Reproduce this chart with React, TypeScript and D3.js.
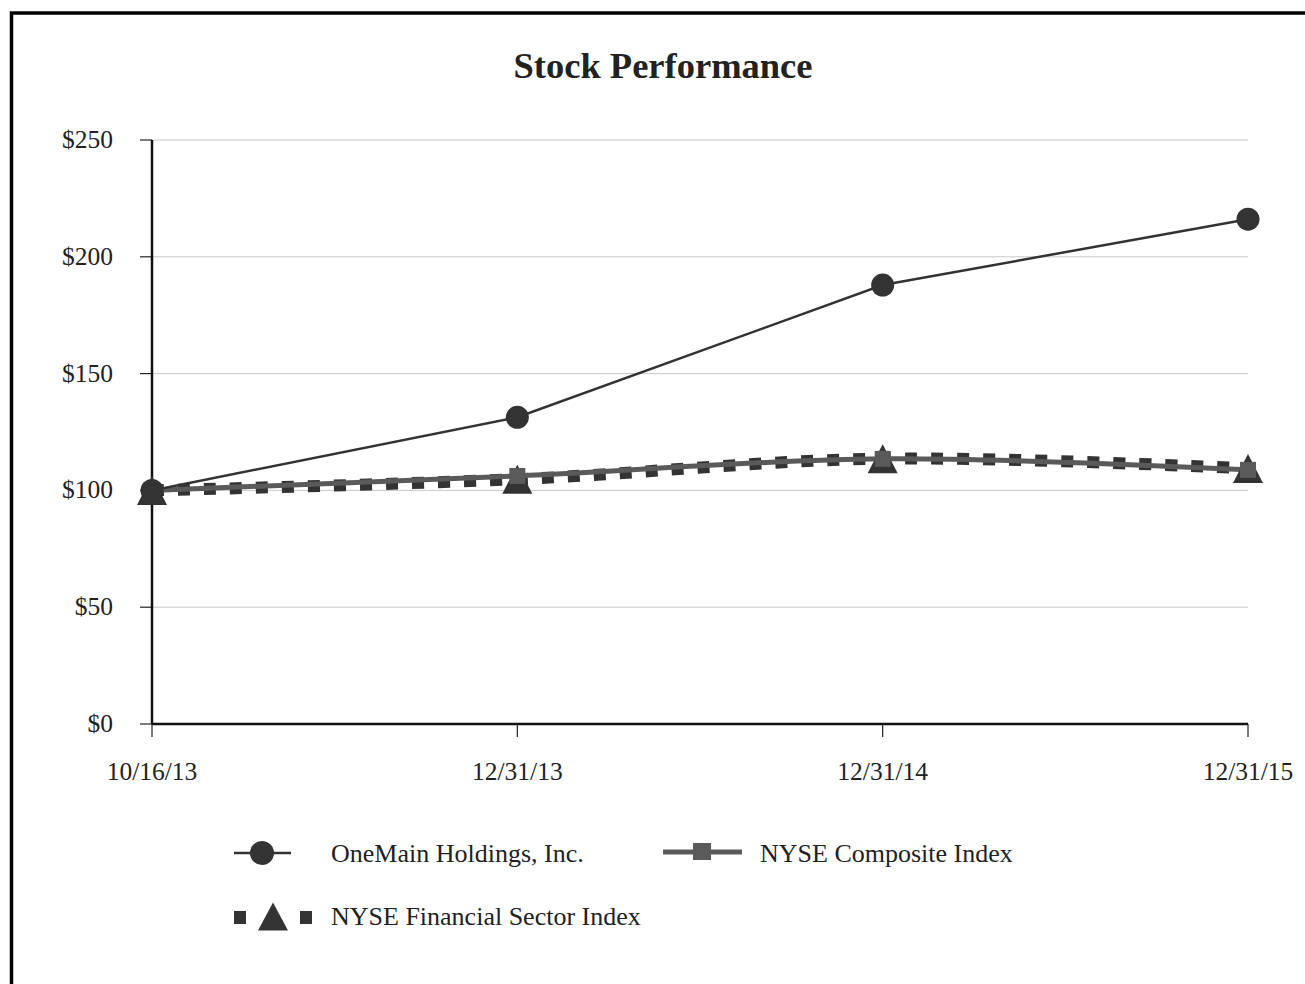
import React from 'react';
import * as d3 from 'd3';

const categories = ['10/16/13', '12/31/13', '12/31/14', '12/31/15'];
const oneMain = [100, 131.3, 187.9, 216.1];
const nyseComposite = [100, 106.2, 113.5, 108.8];
const nyseFinancial = [100, 104.8, 113.6, 109.4];
const yTicks = [0, 50, 100, 150, 200, 250];

const W = 1305;
const H = 984;
const margin = { left: 152, right: 57, top: 140, bottom: 260 };
const FONT = '"Liberation Serif", "Times New Roman", serif';
const DARK = '#333333';
const MID = '#5a5a5a';

export default function App() {
  const x = d3.scalePoint<string>()
    .domain(categories)
    .range([margin.left, W - margin.right]);
  const y = d3.scaleLinear().domain([0, 250]).range([H - margin.bottom, margin.top]);

  const straight = d3.line<number>()
    .x((_, i) => x(categories[i]) as number)
    .y(d => y(d));
  const smooth = d3.line<number>()
    .x((_, i) => x(categories[i]) as number)
    .y(d => y(d))
    .curve(d3.curveCatmullRom.alpha(0.5));

  const tri = (cx: number, cy: number, w: number, h: number) =>
    `M${cx},${cy - h / 2}L${cx + w / 2},${cy + h / 2}L${cx - w / 2},${cy + h / 2}Z`;

  const x0 = margin.left;
  const x1 = W - margin.right;
  const y0 = y(0);

  return (
    <svg width={W} height={H} style={{ position: 'absolute', left: 0, top: 0, display: 'block', background: '#fff' }}>
      <rect x={11.5} y={13} width={W + 20} height={H + 20} fill="none" stroke="#000" strokeWidth={3.5} />

      <text x={663} y={78} textAnchor="middle" fontFamily={FONT} fontSize={36.5} fontWeight="bold" fill="#222">
        Stock Performance
      </text>

      {yTicks.map(t => (
        <g key={t}>
          {t > 0 && <line x1={x0} x2={x1} y1={y(t)} y2={y(t)} stroke="#c8c8c8" strokeWidth={1} />}
          <line x1={x0 - 12} x2={x0} y1={y(t)} y2={y(t)} stroke="#222" strokeWidth={1.2} />
          <text x={113} y={y(t) + 8} textAnchor="end" fontFamily={FONT} fontSize={25.5} fill="#222">
            ${t}
          </text>
        </g>
      ))}

      <line x1={x0} x2={x0} y1={y(250)} y2={y0} stroke="#111" strokeWidth={2.5} />
      <line x1={x0} x2={x1} y1={y0} y2={y0} stroke="#111" strokeWidth={2.5} />
      {categories.map(c => (
        <g key={c}>
          <line x1={x(c)} x2={x(c)} y1={y0} y2={y0 + 13} stroke="#222" strokeWidth={1.2} />
          <text
            x={x(c) as number}
            y={y0 + 56}
            textAnchor="middle"
            fontFamily={FONT}
            fontSize={25.5}
            fill="#222"
          >
            {c}
          </text>
        </g>
      ))}

      {/* NYSE Financial Sector Index */}
      <path d={smooth(nyseFinancial) || ''} fill="none" stroke={DARK} strokeWidth={12} strokeDasharray="12 14" />
      {/* NYSE Composite Index */}
      <path d={smooth(nyseComposite) || ''} fill="none" stroke={MID} strokeWidth={5} />
      {/* OneMain */}
      <path d={straight(oneMain) || ''} fill="none" stroke={DARK} strokeWidth={2.5} />

      {nyseFinancial.map((v, i) => (
        <path key={'f' + i} d={tri(x(categories[i]) as number, y(v), 30, 29)} fill={DARK} />
      ))}
      {nyseComposite.map((v, i) => (
        <rect key={'c' + i} x={(x(categories[i]) as number) - 8} y={y(v) - 8} width={16} height={16} fill={MID} />
      ))}
      {oneMain.map((v, i) => (
        <circle key={'o' + i} cx={x(categories[i]) as number} cy={y(v)} r={11.5} fill={DARK} />
      ))}

      {/* legend */}
      <g fontFamily={FONT} fontSize={26} fill="#222">
        <line x1={234} x2={291} y1={853} y2={853} stroke={DARK} strokeWidth={2.5} />
        <circle cx={262} cy={853} r={12} fill={DARK} />
        <text x={331} y={862}>OneMain Holdings, Inc.</text>

        <line x1={663} x2={742} y1={852} y2={852} stroke={MID} strokeWidth={5} />
        <rect x={693} y={843} width={18} height={17} fill={MID} />
        <text x={760} y={862}>NYSE Composite Index</text>

        <rect x={234} y={911} width={12} height={13} fill={DARK} />
        <path d={tri(273, 916.5, 30, 28)} fill={DARK} />
        <rect x={300} y={911} width={12} height={13} fill={DARK} />
        <text x={331} y={925}>NYSE Financial Sector Index</text>
      </g>
    </svg>
  );
}
